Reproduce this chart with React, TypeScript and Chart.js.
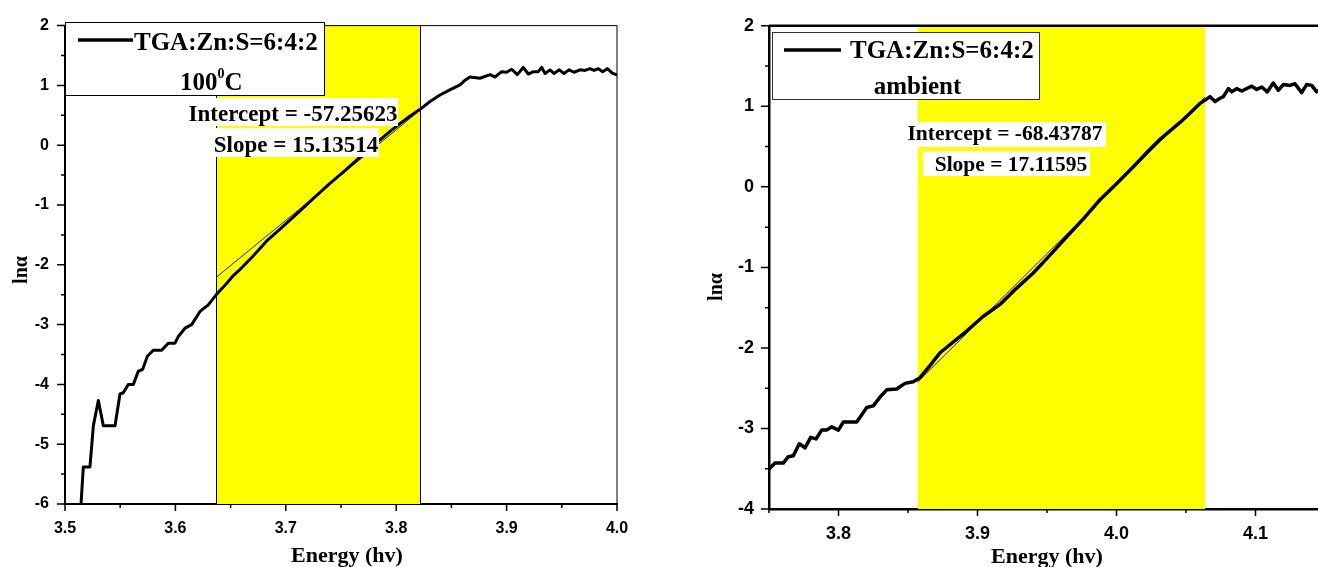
import React, { useEffect, useRef } from "react";
import { Chart, registerables } from "chart.js";

Chart.register(...registerables);

// ---- Data: ln(alpha) versus photon energy for the two samples ----
const leftEnergy = [
  3.5135, 3.5166, 3.5226, 3.5257, 3.5302, 3.5347, 3.5453, 3.5498, 3.5528, 3.5574,
  3.5619, 3.5664, 3.5703, 3.5746, 3.58, 3.5876, 3.5936, 3.5996, 3.6026, 3.6087,
  3.6147, 3.6223, 3.6298, 3.6374, 3.6465, 3.6525, 3.66, 3.67, 3.6827, 3.695,
  3.7129, 3.725, 3.74, 3.752, 3.7642, 3.775, 3.7853, 3.795, 3.8034, 3.812,
  3.8216, 3.8306, 3.8397, 3.849, 3.8578, 3.862, 3.8668, 3.8759, 3.885, 3.8895,
  3.8955, 3.9, 3.9046, 3.9097, 3.9151, 3.9197, 3.9242, 3.9287, 3.9318, 3.9348,
  3.9393, 3.9429, 3.9478, 3.952, 3.9565, 3.9611, 3.9665, 3.971, 3.9755, 3.9792,
  3.9831, 3.987, 3.9912, 3.9961, 4.0012,
];
const leftLnAlpha = [
  -6.3, -5.38, -5.38, -4.69, -4.27, -4.69, -4.69, -4.16, -4.14, -4.0,
  -4.0, -3.78, -3.75, -3.53, -3.43, -3.43, -3.31, -3.31, -3.2, -3.06,
  -3.0, -2.78, -2.67, -2.49, -2.31, -2.18, -2.05, -1.86, -1.6, -1.4,
  -1.1, -0.89, -0.64, -0.45, -0.25, -0.07, 0.09, 0.24, 0.36, 0.48,
  0.6, 0.73, 0.84, 0.93, 1.01, 1.08, 1.14, 1.12, 1.18, 1.14,
  1.23, 1.22, 1.27, 1.18, 1.3, 1.19, 1.23, 1.23, 1.3, 1.2,
  1.26, 1.2, 1.26, 1.2, 1.26, 1.22, 1.26, 1.25, 1.28, 1.25,
  1.28, 1.23, 1.28, 1.2, 1.17,
];

const rightEnergy = [
  3.7502, 3.7543, 3.7603, 3.7639, 3.7675, 3.7718, 3.7759, 3.78, 3.7838, 3.7879,
  3.7915, 3.7951, 3.7999, 3.8035, 3.8131, 3.8155, 3.8203, 3.825, 3.8299, 3.8347,
  3.8419, 3.8478, 3.8538, 3.8586, 3.8658, 3.873, 3.8922, 3.904, 3.9162, 3.928,
  3.9401, 3.952, 3.9642, 3.976, 3.9881, 4.0, 4.0121, 4.022, 4.0313, 4.0457,
  4.0532, 4.0604, 4.064, 4.0673, 4.0709, 4.0745, 4.0769, 4.0805, 4.0829, 4.0865,
  4.0901, 4.0973, 4.1009, 4.1045, 4.1085, 4.1128, 4.1164, 4.12, 4.1248, 4.1284,
  4.1332, 4.1368, 4.1404, 4.144, 4.148,
];
const rightLnAlpha = [
  -3.5, -3.43, -3.43, -3.35, -3.34, -3.19, -3.24, -3.11, -3.13, -3.02,
  -3.02, -2.98, -3.02, -2.92, -2.92, -2.86, -2.74, -2.72, -2.61, -2.52,
  -2.51, -2.44, -2.42, -2.37, -2.22, -2.06, -1.79, -1.61, -1.46, -1.26,
  -1.07, -0.85, -0.62, -0.4, -0.16, 0.04, 0.25, 0.43, 0.59, 0.8,
  0.92, 1.04, 1.08, 1.12, 1.06, 1.1, 1.12, 1.22, 1.18, 1.22,
  1.19, 1.25, 1.21, 1.24, 1.18, 1.29, 1.2, 1.27, 1.26, 1.28,
  1.17, 1.27, 1.26, 1.18, 1.22,
];

// Linear fits over the highlighted absorption-edge windows
const leftFit = { intercept: -57.25623, slope: 15.13514 };
const rightFit = { intercept: -68.43787, slope: 17.11595 };
const leftFitRange = [3.637, 3.8216];
const rightFitRange = [3.857, 4.0637];

// Axis ranges and tick labels
const leftXRange = [3.5, 4.0];
const leftYRange = [-6, 2];
const rightXRange = [3.75, 4.15];
const rightYRange = [-4, 2];
const leftXTicks = [3.5, 3.6, 3.7, 3.8, 3.9, 4.0];
const leftYTicks = [-6, -5, -4, -3, -2, -1, 0, 1, 2];
const rightXTicks = [3.8, 3.9, 4.0, 4.1];
const rightYTicks = [-4, -3, -2, -1, 0, 1, 2];

const seriesName = "TGA:Zn:S=6:4:2";
const leftCondition = "100";
const rightCondition = "ambient";
const xTitle = "Energy (hv)";
const yTitle = "ln\u03b1";

const SERIF = '"Liberation Serif", "Times New Roman", serif';
const SANS = '"Liberation Sans", Arial, sans-serif';

type Box = [number, number, number, number];

type PanelStyle = {
  left: number;
  width: number;
  height: number;
  yAxisWidth: number;
  xAxisHeight: number;
  padTop: number;
  padRight: number;
  tickFont: number;
  xTickPad: number;
  yTickPad: number;
  axisWidth: number;
  frameWidth: number;
  bandEdges: boolean;
  legendBox: Box;
  legendBorder: string;
  legendLine: [number, number, number];
  legendText: [number, number];
  conditionPos: [number, number];
  labelFont: number;
  annotFont: number;
  interceptPos: [number, number];
  interceptBg: Box;
  slopePos: [number, number];
  slopeBg: Box;
  yTitlePos: [number, number];
  xTitlePos: [number, number];
  curveWidth: number;
};

type PanelData = {
  energy: number[];
  lnAlpha: number[];
  fit: { intercept: number; slope: number };
  fitRange: number[];
  xRange: number[];
  yRange: number[];
  xTicks: number[];
  yTicks: number[];
  condition: string;
  superscriptDegree: boolean;
};

const leftStyle: PanelStyle = {
  left: 0,
  width: 670,
  height: 580,
  yAxisWidth: 65,
  xAxisHeight: 76,
  padTop: 22,
  padRight: 53,
  tickFont: 16,
  xTickPad: 15,
  yTickPad: 16,
  axisWidth: 2,
  frameWidth: 1,
  bandEdges: true,
  legendBox: [65, 22, 324, 95],
  legendBorder: "#000",
  legendLine: [78, 133, 40],
  legendText: [134, 50],
  conditionPos: [180, 90],
  labelFont: 25,
  annotFont: 23,
  interceptPos: [293, 121],
  interceptBg: [188, 98, 398, 126],
  slopePos: [296, 152],
  slopeBg: [213, 128, 379, 157],
  yTitlePos: [22, 270],
  xTitlePos: [347, 562],
  curveWidth: 3,
};

const rightStyle: PanelStyle = {
  left: 680,
  width: 660,
  height: 580,
  yAxisWidth: 89,
  xAxisHeight: 71,
  padTop: 22,
  padRight: 15,
  tickFont: 18,
  xTickPad: 14,
  yTickPad: 15,
  axisWidth: 2.5,
  frameWidth: 2.5,
  bandEdges: false,
  legendBox: [92, 32, 359, 99],
  legendBorder: "#333",
  legendLine: [104, 161, 50],
  legendText: [170, 58],
  conditionPos: [237.5, 94],
  labelFont: 25,
  annotFont: 21.5,
  interceptPos: [325, 140],
  interceptBg: [227, 122, 426, 147],
  slopePos: [331, 171],
  slopeBg: [243, 151, 410, 176],
  yTitlePos: [37, 287],
  xTitlePos: [367, 563],
  curveWidth: 3.5,
};

function minorValues(major: number[], min: number, max: number): number[] {
  const step = major[1] - major[0];
  const out: number[] = [];
  for (let i = -1; i < major.length; i++) {
    const v = major[0] + (i + 0.5) * step;
    if (v >= min - 1e-9 && v <= max + 1e-9) out.push(v);
  }
  return out;
}

function makeDecor(d: PanelData, s: PanelStyle) {
  return {
    id: "panelDecor",
    beforeDatasetsDraw(chart: any) {
      const { ctx, chartArea: a, scales } = chart;
      const x0 = scales.x.getPixelForValue(d.fitRange[0]);
      const x1 = scales.x.getPixelForValue(d.fitRange[1]);
      ctx.save();
      ctx.fillStyle = "#ffff00";
      ctx.fillRect(x0, a.top, x1 - x0, a.bottom - a.top);
      if (s.bandEdges) {
        ctx.strokeStyle = "#000";
        ctx.lineWidth = 1;
        ctx.beginPath();
        ctx.moveTo(Math.round(x0) + 0.5, a.top);
        ctx.lineTo(Math.round(x0) + 0.5, a.bottom);
        ctx.moveTo(Math.round(x1) + 0.5, a.top);
        ctx.lineTo(Math.round(x1) + 0.5, a.bottom);
        ctx.stroke();
      }
      ctx.restore();
    },
    afterDraw(chart: any) {
      const { ctx, chartArea: a, scales } = chart;
      const xs = scales.x;
      const ys = scales.y;
      ctx.save();

      // top and right frame
      ctx.strokeStyle = "#000";
      ctx.lineWidth = s.frameWidth;
      ctx.beginPath();
      ctx.moveTo(a.left, a.top);
      ctx.lineTo(a.right, a.top);
      ctx.lineTo(a.right, a.bottom);
      ctx.stroke();

      // outward tick marks, major and minor
      ctx.lineWidth = 1.5;
      ctx.beginPath();
      d.xTicks.forEach((v) => {
        const px = xs.getPixelForValue(v);
        ctx.moveTo(px, a.bottom);
        ctx.lineTo(px, a.bottom + 7);
      });
      minorValues(d.xTicks, d.xRange[0], d.xRange[1]).forEach((v) => {
        const px = xs.getPixelForValue(v);
        ctx.moveTo(px, a.bottom);
        ctx.lineTo(px, a.bottom + 4);
      });
      d.yTicks.forEach((v) => {
        const py = ys.getPixelForValue(v);
        ctx.moveTo(a.left, py);
        ctx.lineTo(a.left - 8, py);
      });
      minorValues(d.yTicks, d.yRange[0], d.yRange[1]).forEach((v) => {
        const py = ys.getPixelForValue(v);
        ctx.moveTo(a.left, py);
        ctx.lineTo(a.left - 4, py);
      });
      ctx.stroke();

      // legend box
      const [bx0, by0, bx1, by1] = s.legendBox;
      ctx.fillStyle = "#fff";
      ctx.fillRect(bx0 + 1, by0 + 1, bx1 - bx0 - 1, by1 - by0 - 1);
      ctx.strokeStyle = s.legendBorder;
      ctx.lineWidth = 1;
      ctx.strokeRect(bx0 + 0.5, by0 + 0.5, bx1 - bx0, by1 - by0);
      ctx.strokeStyle = "#000";
      ctx.lineWidth = 3.5;
      ctx.beginPath();
      ctx.moveTo(s.legendLine[0], s.legendLine[2]);
      ctx.lineTo(s.legendLine[1], s.legendLine[2]);
      ctx.stroke();
      ctx.fillStyle = "#000";
      ctx.textBaseline = "alphabetic";
      ctx.textAlign = "left";
      ctx.font = `bold ${s.labelFont}px ${SERIF}`;
      ctx.fillText(seriesName, s.legendText[0], s.legendText[1]);

      const [cx, cy] = s.conditionPos;
      if (d.superscriptDegree) {
        ctx.font = `bold 25px ${SERIF}`;
        ctx.fillText(d.condition, cx, cy);
        let x = cx + ctx.measureText(d.condition).width;
        ctx.font = `bold 14px ${SERIF}`;
        ctx.fillText("0", x, cy - 12);
        x += ctx.measureText("0").width;
        ctx.font = `bold 25px ${SERIF}`;
        ctx.fillText("C", x, cy);
      } else {
        ctx.textAlign = "center";
        ctx.font = `bold ${s.labelFont}px ${SERIF}`;
        ctx.fillText(d.condition, cx, cy);
      }

      // fit results
      const lines: [string, [number, number], Box][] = [
        [`Intercept = ${d.fit.intercept.toFixed(5)}`, s.interceptPos, s.interceptBg],
        [`Slope = ${d.fit.slope.toFixed(5)}`, s.slopePos, s.slopeBg],
      ];
      ctx.font = `bold ${s.annotFont}px ${SERIF}`;
      ctx.textAlign = "center";
      lines.forEach(([text, pos, bg]) => {
        ctx.fillStyle = "#fff";
        ctx.fillRect(bg[0], bg[1], bg[2] - bg[0], bg[3] - bg[1]);
        ctx.fillStyle = "#000";
        ctx.fillText(text, pos[0], pos[1]);
      });

      // axis titles
      ctx.font = `bold 22px ${SERIF}`;
      ctx.fillText(xTitle, s.xTitlePos[0], s.xTitlePos[1]);
      ctx.save();
      ctx.translate(s.yTitlePos[0], s.yTitlePos[1]);
      ctx.rotate(-Math.PI / 2);
      ctx.textBaseline = "middle";
      ctx.font = `bold 20px ${SERIF}`;
      ctx.fillText(yTitle, 0, 0);
      ctx.restore();

      ctx.restore();
    },
  };
}

function Panel({ data, style }: { data: PanelData; style: PanelStyle }) {
  const ref = useRef<HTMLCanvasElement | null>(null);

  useEffect(() => {
    if (!ref.current) return;
    const points = data.energy.map((e, i) => ({ x: e, y: data.lnAlpha[i] }));
    const fitPoints = data.fitRange.map((e) => ({
      x: e,
      y: data.fit.slope * e + data.fit.intercept,
    }));
    const tickFont = { family: SANS, size: style.tickFont, weight: "bold" as const };

    const chart = new Chart(ref.current, {
      type: "line",
      data: {
        datasets: [
          {
            data: points,
            borderColor: "#000",
            borderWidth: style.curveWidth,
            pointRadius: 0,
            tension: 0,
            borderJoinStyle: "round",
            borderCapStyle: "round",
          },
          {
            data: fitPoints,
            borderColor: "#1c1c9c",
            borderWidth: 1,
            pointRadius: 0,
            tension: 0,
          },
        ],
      },
      options: {
        responsive: false,
        animation: false,
        parsing: false as any,
        layout: { padding: { top: style.padTop, right: style.padRight, left: 0, bottom: 0 } },
        plugins: {
          legend: { display: false },
          tooltip: { enabled: false },
        },
        scales: {
          x: {
            type: "linear",
            min: data.xRange[0],
            max: data.xRange[1],
            afterBuildTicks: (sc: any) => {
              sc.ticks = data.xTicks.map((v) => ({ value: v }));
            },
            afterFit: (sc: any) => {
              sc.height = style.xAxisHeight;
            },
            ticks: {
              callback: (v: any) => Number(v).toFixed(1),
              font: tickFont,
              color: "#000",
              padding: style.xTickPad,
              maxRotation: 0,
              autoSkip: false,
            },
            grid: { display: false, drawTicks: false },
            border: { display: true, color: "#000", width: style.axisWidth },
          },
          y: {
            type: "linear",
            min: data.yRange[0],
            max: data.yRange[1],
            afterBuildTicks: (sc: any) => {
              sc.ticks = data.yTicks.map((v) => ({ value: v }));
            },
            afterFit: (sc: any) => {
              sc.width = style.yAxisWidth;
            },
            ticks: {
              callback: (v: any) => String(v),
              font: tickFont,
              color: "#000",
              padding: style.yTickPad,
              autoSkip: false,
            },
            grid: { display: false, drawTicks: false },
            border: { display: true, color: "#000", width: style.axisWidth },
          },
        },
      },
      plugins: [makeDecor(data, style)],
    } as any);

    return () => chart.destroy();
  }, [data, style]);

  return (
    <canvas
      ref={ref}
      width={style.width}
      height={style.height}
      style={{ position: "absolute", left: style.left, top: 0, width: style.width, height: style.height }}
    />
  );
}

const leftData: PanelData = {
  energy: leftEnergy,
  lnAlpha: leftLnAlpha,
  fit: leftFit,
  fitRange: leftFitRange,
  xRange: leftXRange,
  yRange: leftYRange,
  xTicks: leftXTicks,
  yTicks: leftYTicks,
  condition: leftCondition,
  superscriptDegree: true,
};

const rightData: PanelData = {
  energy: rightEnergy,
  lnAlpha: rightLnAlpha,
  fit: rightFit,
  fitRange: rightFitRange,
  xRange: rightXRange,
  yRange: rightYRange,
  xTicks: rightXTicks,
  yTicks: rightYTicks,
  condition: rightCondition,
  superscriptDegree: false,
};

export default function App() {
  return (
    <div
      style={{
        position: "fixed",
        left: 0,
        top: 0,
        width: 1318,
        height: 567,
        overflow: "hidden",
        background: "#fff",
      }}
    >
      <Panel data={leftData} style={leftStyle} />
      <Panel data={rightData} style={rightStyle} />
    </div>
  );
}
